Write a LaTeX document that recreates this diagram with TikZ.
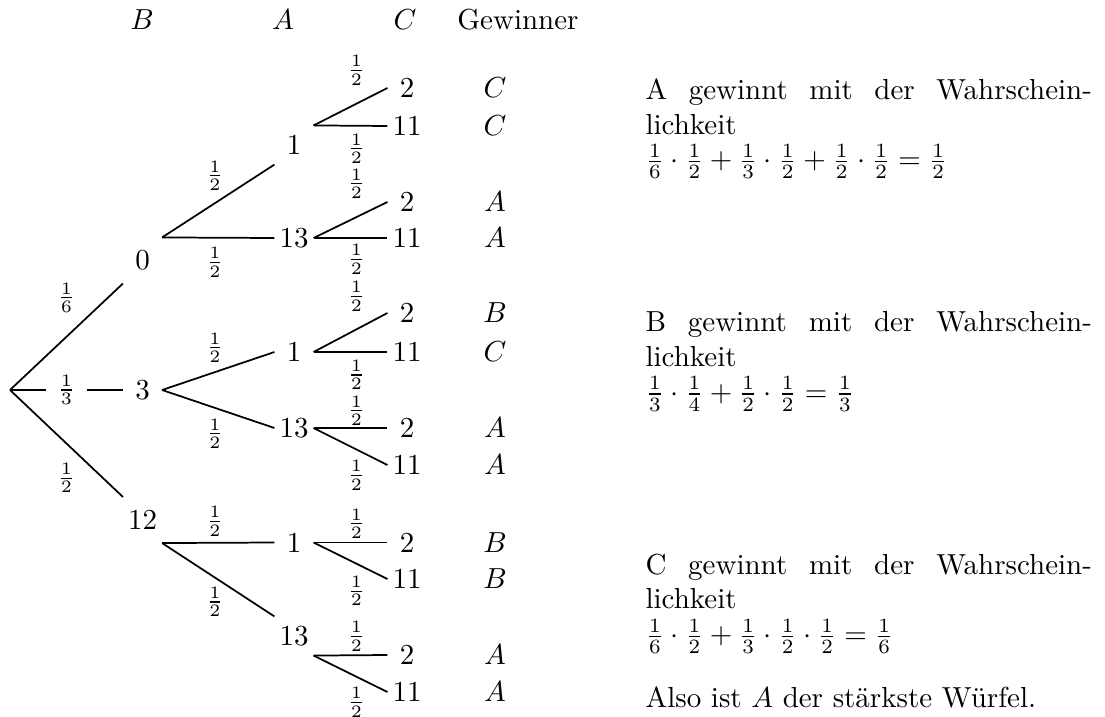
\documentclass[tikz,border=0pt]{standalone}
\usepackage{amsmath}
\usepackage{tikz}
\usetikzlibrary{positioning}

\begin{document}
\begin{tikzpicture}[
    x=0.345pt, y=-0.345pt,
    stufe/.style={rectangle, inner sep=0pt, minimum width=13.1pt, minimum height=13.1pt},
    stufeB/.style={stufe, minimum height=15.5pt},
    blatt/.style={rectangle, inner sep=0pt, minimum width=13.1pt},
    gew/.style={inner sep=0pt},
    kopf/.style={anchor=base, inner sep=0pt},
    wk/.style={font=\footnotesize, inner sep=0pt},
    ast/.style={semithick},
    info/.style={anchor=north west, inner sep=0pt, text width=154pt, align=justify}
]

\useasboundingbox (0,0) rectangle (1105,717);

% Kopfzeile
\node[kopf] (kB) at (142,30) {$B$};
\node[kopf] (kA) at (283,30) {$A$};
\node[kopf] (kC) at (405,30) {$C$};
\node[kopf] (kG) at (518,30) {Gewinner};

% Wurzel und Wuerfel B
\coordinate (wurzel) at (10,390);
\node[stufeB] (n0) at (142.5,260.5) {0};
\node[stufeB] (n3) at (142.5,390) {3};
\node[stufeB] (n12) at (142.5,520) {12};

\draw[ast] (wurzel) -- node[wk, above=8pt] {$\frac{1}{6}$} (n0.south west);
\draw[ast] (wurzel) -- node[wk, fill=white, inner xsep=4pt] {$\frac{1}{3}$} (n3.west);
\draw[ast] (wurzel) -- node[wk, below=6.5pt] {$\frac{1}{2}$} (n12.north west);

% Wuerfel A
\node[stufe] (n0-1) at (294,145) {1};
\node[stufe] (n0-13) at (294,238) {13};
\node[stufe] (n3-1) at (294,352) {1};
\node[stufe] (n3-13) at (294,428) {13};
\node[stufe] (n12-1) at (294,542.5) {1};
\node[stufe] (n12-13) at (294,636) {13};

\draw[ast] (n0.north east) -- node[wk, pos=0.47, above=4pt] {$\frac{1}{2}$} (n0-1.south west);
\draw[ast] (n0.north east) -- node[wk, pos=0.47, below=3pt] {$\frac{1}{2}$} (n0-13.west);
\draw[ast] (n3.east) -- node[wk, pos=0.47, above=3pt] {$\frac{1}{2}$} (n3-1.west);
\draw[ast] (n3.east) -- node[wk, pos=0.47, below=3.5pt] {$\frac{1}{2}$} (n3-13.west);
\draw[ast] (n12.south east) -- node[wk, pos=0.47, above=2pt] {$\frac{1}{2}$} (n12-1.west);
\draw[ast] (n12.south east) -- node[wk, pos=0.47, below=3pt] {$\frac{1}{2}$} (n12-13.north west);

% Wuerfel C
\node[blatt] (n0-1-2) at (407,88) {2};
\node[blatt] (n0-1-11) at (407,126) {11};
\node[blatt] (n0-13-2) at (407,202) {2};
\node[blatt] (n0-13-11) at (407,238) {11};
\node[blatt] (n3-1-2) at (407,313) {2};
\node[blatt] (n3-1-11) at (407,352) {11};
\node[blatt] (n3-13-2) at (407,428) {2};
\node[blatt] (n3-13-11) at (407,465) {11};
\node[blatt] (n12-1-2) at (407,542.5) {2};
\node[blatt] (n12-1-11) at (407,579) {11};
\node[blatt] (n12-13-2) at (407,655) {2};
\node[blatt] (n12-13-11) at (407,692) {11};

\draw[ast] (n0-1.north east) -- node[wk, pos=0.58, above=6pt] {$\frac{1}{2}$} (n0-1-2.west);
\draw[ast] (n0-1.north east) -- node[wk, pos=0.58, below=2.5pt] {$\frac{1}{2}$} (n0-1-11.west);
\draw[ast] (n0-13.east) -- node[wk, pos=0.58, above=6pt] {$\frac{1}{2}$} (n0-13-2.west);
\draw[ast] (n0-13.east) -- node[wk, pos=0.58, below=2pt] {$\frac{1}{2}$} (n0-13-11.west);
\draw[ast] (n3-1.east) -- node[wk, pos=0.58, above=6pt] {$\frac{1}{2}$} (n3-1-2.west);
\draw[ast] (n3-1.east) -- node[wk, pos=0.58, below=2.5pt] {$\frac{1}{2}$} (n3-1-11.west);
\draw[ast] (n3-13.east) -- node[wk, pos=0.58, above=0.5pt] {$\frac{1}{2}$} (n3-13-2.west);
\draw[ast] (n3-13.east) -- node[wk, pos=0.58, below=3.5pt] {$\frac{1}{2}$} (n3-13-11.west);
\draw[ast] (n12-1.east) -- node[wk, pos=0.58, above=1pt] {$\frac{1}{2}$} (n12-1-2.west);
\draw[ast] (n12-1.east) -- node[wk, pos=0.58, below=4pt] {$\frac{1}{2}$} (n12-1-11.west);
\draw[ast] (n12-13.south east) -- node[wk, pos=0.58, above=1pt] {$\frac{1}{2}$} (n12-13-2.west);
\draw[ast] (n12-13.south east) -- node[wk, pos=0.58, below=3.5pt] {$\frac{1}{2}$} (n12-13-11.west);

% Gewinner
\node[gew] (g0-1-2) at (495,88) {$C$};
\node[gew] (g0-1-11) at (495,126) {$C$};
\node[gew] (g0-13-2) at (495,202) {$A$};
\node[gew] (g0-13-11) at (495,238) {$A$};
\node[gew] (g3-1-2) at (495,313) {$B$};
\node[gew] (g3-1-11) at (495,352) {$C$};
\node[gew] (g3-13-2) at (495,428) {$A$};
\node[gew] (g3-13-11) at (495,465) {$A$};
\node[gew] (g12-1-2) at (495,542.5) {$B$};
\node[gew] (g12-1-11) at (495,579) {$B$};
\node[gew] (g12-13-2) at (495,655) {$A$};
\node[gew] (g12-13-11) at (495,692) {$A$};

% Auswertung
\node[info] (infoA) at (645,78) {A gewinnt mit der Wahrschein\-lichkeit\\
  $\frac{1}{6}\cdot\frac{1}{2}+\frac{1}{3}\cdot\frac{1}{2}+\frac{1}{2}\cdot\frac{1}{2}=\frac{1}{2}$};
\node[info] (infoB) at (645,311) {B gewinnt mit der Wahrschein\-lichkeit\\
  $\frac{1}{3}\cdot\frac{1}{4}+\frac{1}{2}\cdot\frac{1}{2}=\frac{1}{3}$};
\node[info] (infoC) at (645,553) {C gewinnt mit der Wahrschein\-lichkeit\\
  $\frac{1}{6}\cdot\frac{1}{2}+\frac{1}{3}\cdot\frac{1}{2}\cdot\frac{1}{2}=\frac{1}{6}$\\[10pt]
  Also ist $A$ der st\"arkste W\"urfel.};

\end{tikzpicture}
\end{document}
